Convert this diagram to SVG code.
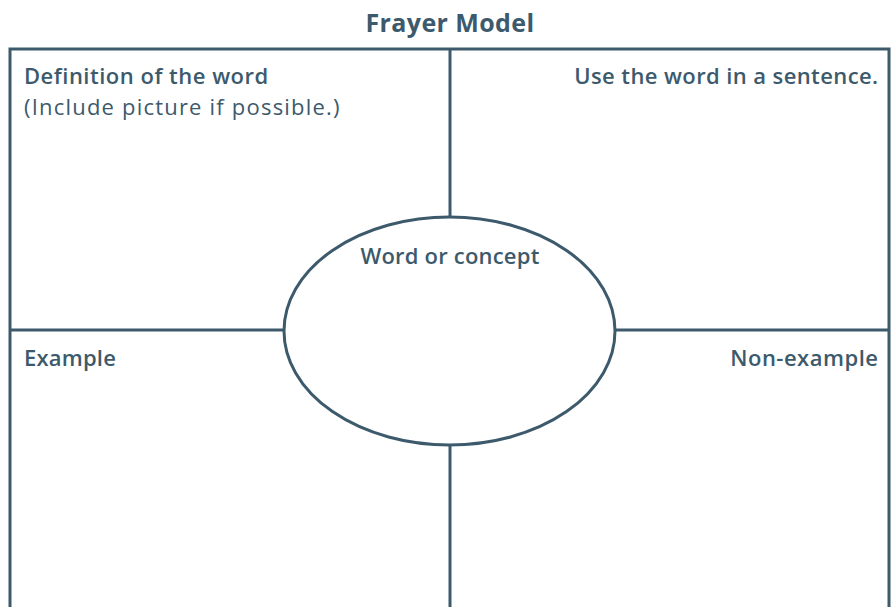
<svg xmlns="http://www.w3.org/2000/svg" width="891" height="607" viewBox="0 0 891 607">
<style>
.ln{stroke:#3d5a6c;stroke-width:3;fill:none}
.t{font-family:"Open Sans","DejaVu Sans",sans-serif;fill:#3d5a6c}
.b{font-weight:600;font-size:22px}
.l{font-weight:400;font-size:22px;letter-spacing:1.2px}
</style>
<rect width="891" height="607" fill="#ffffff"/>
<g id="title"><text class="t" x="450" y="32" text-anchor="middle" font-size="25" font-weight="700" letter-spacing="0.4">Frayer Model</text></g>
<g id="connectors">
<path class="ln" d="M10,620 V49 H889 V620"/>
<line class="ln" x1="450" y1="49" x2="450" y2="217"/>
<line class="ln" x1="450" y1="445" x2="450" y2="620"/>
<line class="ln" x1="10" y1="330" x2="284" y2="330"/>
<line class="ln" x1="615" y1="330" x2="889" y2="330"/>
</g>
<g id="definition"><text class="t b" x="24" y="84" letter-spacing="0.5">Definition of the word</text><text class="t l" x="24" y="115">(Include picture if possible.)</text></g>
<g id="sentence"><text class="t b" x="878.5" y="84" text-anchor="end" letter-spacing="0.4">Use the word in a sentence.</text></g>
<g id="example"><text class="t b" x="24" y="366" letter-spacing="0.2">Example</text></g>
<g id="nonexample"><text class="t b" x="878.5" y="366" text-anchor="end" letter-spacing="0.5">Non-example</text></g>
<g id="concept"><ellipse class="ln" cx="449.5" cy="331" rx="165.5" ry="114" fill="#ffffff"/><text class="t b" x="450" y="264" text-anchor="middle" letter-spacing="0.2">Word or concept</text></g>
</svg>
